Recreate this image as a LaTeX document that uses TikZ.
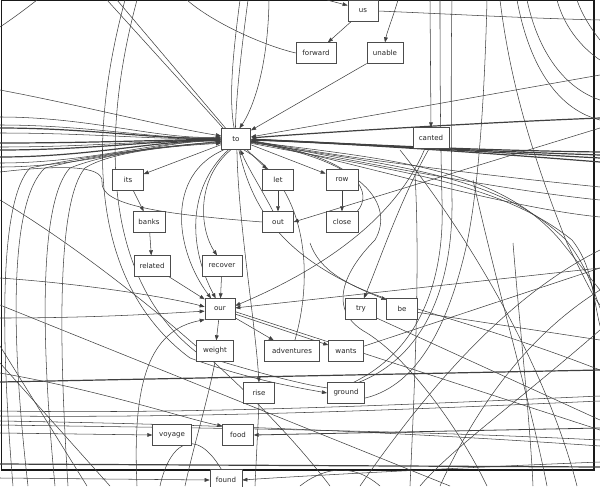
\documentclass[tikz,border=0pt]{standalone}
\usepackage{fontspec}
\setmainfont{DejaVu Sans}
\usetikzlibrary{arrows.meta}
\pgfdeclarelayer{bg}
\pgfsetlayers{bg,main}
\begin{document}
\begin{tikzpicture}[x=0.75pt,y=-0.75pt,
  nd/.style={draw=black!70, line width=0.45pt, fill=white, minimum height=15.5pt, inner sep=0pt, font=\fontsize{5.3}{6}\selectfont, text=black!85},
  ed/.style={draw=black!75, line width=0.4pt},
  ea/.style={ed, -{Triangle[length=3.8pt,width=2.8pt]}},
  bold/.style={line width=0.9pt},
  frame/.style={draw=black!90, line width=0.9pt}]
\useasboundingbox (0,0) rectangle (600,486);
% nodes
\node[nd, minimum width=22.5pt] (us) at (363,11) {us};
\node[nd, minimum width=30pt] (forward) at (316,53) {forward};
\node[nd, minimum width=27pt] (unable) at (385,53) {unable};
\node[nd, minimum width=22pt] (to) at (236,139) {to};
\node[nd, minimum width=27pt] (canted) at (431,138) {canted};
\node[nd, minimum width=23pt] (its) at (128,180) {its};
\node[nd, minimum width=23pt] (let) at (278,180) {let};
\node[nd, minimum width=24pt] (row) at (342,180) {row};
\node[nd, minimum width=24pt] (banks) at (149,222) {banks};
\node[nd, minimum width=23pt] (out) at (278,222) {out};
\node[nd, minimum width=24pt] (close) at (342,222) {close};
\node[nd, minimum width=27pt] (related) at (152,266) {related};
\node[nd, minimum width=30pt] (recover) at (222,266) {recover};
\node[nd, minimum width=22.5pt] (our) at (220,309) {our};
\node[nd, minimum width=23pt] (try) at (361,309) {try};
\node[nd, minimum width=23pt] (be) at (402,309) {be};
\node[nd, minimum width=28pt] (weight) at (215,351) {weight};
\node[nd, minimum width=41pt] (adventures) at (292,351) {adventures};
\node[nd, minimum width=26pt] (wants) at (346,351) {wants};
\node[nd, minimum width=23pt] (rise) at (259,393) {rise};
\node[nd, minimum width=28pt] (ground) at (346,393) {ground};
\node[nd, minimum width=29pt] (voyage) at (172,435) {voyage};
\node[nd, minimum width=23pt] (food) at (238,435) {food};
\node[nd, minimum width=24pt] (found) at (226,480) {found};
\begin{pgfonlayer}{bg}
\clip (0,0) rectangle (600,486);
\draw[frame] (1.5,0) rectangle (594,470);
% edges between visible nodes
\draw[ea] (us) -- (forward);
\draw[ea] (unable) -- (to);
\draw[ea] (to) -- (its);
\draw[ea] (to) -- (let);
\draw[ea] (to) -- (row);
\draw[ea] (let) -- (out);
\draw[ea] (row) -- (close);
\draw[ea] (its) -- (banks);
\draw[ea] (banks) -- (related);
\draw[ea] (related) -- (our);
\draw[ea] (recover) -- (our);
\draw[ea] (our) -- (weight);
\draw[ea] (our) -- (adventures);
\draw[ea] (our) -- (wants);
\draw[ea] (out.115) .. controls (262,190) and (248,168) .. (to.-68);
\draw[ea] (close.35) .. controls (372,195) and (365,160) .. (to.-8);
\draw[ea] (to.235) .. controls (185,190) and (190,250) .. (our.112);
\draw[ea] (to.222) .. controls (165,175) and (175,250) .. (our.130);
\draw[ea] (to.245) .. controls (195,180) and (200,230) .. (recover.115);
\draw[ea] (to.-85) .. controls (238,220) and (255,320) .. (rise.north);
\draw[ed] (adventures.75) .. controls (315,270) and (305,185) .. (to.-55);
\draw[ea] (to.-75) .. controls (255,225) and (300,265) .. (be.150);
\draw[ea] (canted.-100) .. controls (400,200) and (380,260) .. (try.75);
\draw[ea] (canted.-120) .. controls (395,220) and (320,270) .. (our.12);
\draw[ed] (to.-12) .. controls (365,160) and (395,205) .. (375,240) .. controls (345,270) and (325,310) .. (367,333) .. controls (410,360) and (460,430) .. (487,486);
% free ends
\coordinate (t1) at (327,0);  \draw[ea] (t1) -- (us.160);
\coordinate (t2) at (398,0);  \draw[ea] (t2) .. controls (392,20) and (387,32) .. (unable.north);
\coordinate (t3) at (430,0);  \draw[ea] (t3) -- (canted.north);
\coordinate (t4) at (187,0);  \draw[ed] (forward.west) .. controls (262,45) and (212,22) .. (t4);
\coordinate (r0) at (600,20); \draw[ed] (us.east) .. controls (450,14) and (520,18) .. (r0);
\coordinate (r1) at (600,128); \draw[ea] (r1) -- (out.east);
\coordinate (lf1) at (0,172); \draw[ed] (out.west) .. controls (160,214) and (100,205) .. (102,182) .. controls (104,165) and (60,165) .. (lf1);
% into to from the left
\foreach \y/\a/\w in {117/172/0.4,125/175/0.4,128/176/0.9,133/178/0.4,143/181/0.9,147/182/0.4,150/183/0.9,157/185/0.9,163/187/0.4,167/188/0.4}{
  \coordinate (lb) at (0,\y);
  \draw[ea, line width=\w pt] (lb) .. controls (90,\y) and (160,140) .. (to.\a);
}
\coordinate (lb0) at (0,90); \draw[ea] (lb0) .. controls (80,105) and (170,128) .. (to.168);
\foreach \x/\c/\m/\a in {13/0/30/189,28/10/45/190,55/40/70/193,68/58/85/196}{
  \coordinate (bl) at (\x,486);
  \draw[ea] (bl) .. controls (\c,330) and (\c,200) .. (\m,168) .. controls (110,152) and (170,146) .. (to.\a);
}
% into to from the top
\coordinate (t5) at (240,0); \draw[ed] (t5) .. controls (232,60) and (229,100) .. (to.100);
\coordinate (t6) at (248,0); \draw[ed] (t6) .. controls (240,60) and (236,100) .. (to.93);
\coordinate (t7) at (269,0); \draw[ea] (t7) .. controls (268,70) and (252,110) .. (to.72);
\coordinate (t8) at (107,0); \draw[ed] (t8) -- (to.140);
\coordinate (t9) at (117,0); \draw[ed] (t9) -- (to.134);
% into to from the right
\coordinate (r2) at (600,118); \draw[ea, bold] (r2) .. controls (450,124) and (300,134) .. (to.4);
\coordinate (r3) at (600,75);  \draw[ea] (r3) -- (to.8);
\foreach \y/\a in {152/-1,155/-2,158/-3,162/-4}{
  \coordinate (rb) at (600,\y);
  \draw[ea, bold] (rb) .. controls (450,150) and (320,142) .. (to.\a);
}
% out of to towards the right
\foreach \y/\a in {187/-5,200/-7,217/-9}{
  \coordinate (rc) at (600,\y);
  \draw[ed] (to.\a) .. controls (350,150+\y/20) and (500,\y-10) .. (rc);
}
\foreach \d/\a in {0/-10,6/-13,12/-16}{
  \coordinate (rd) at (600,290+\d*3);
  \draw[ed] (to.\a) .. controls (400,160+\d) and (500,170+\d) .. (560+\d,240) .. controls (580+\d,265) and (592,280+\d) .. (rd);
}
% into our
\coordinate (l2) at (0,278); \draw[ea] (l2) .. controls (100,285) and (180,300) .. (our.172);
\coordinate (l3) at (0,318); \draw[ea] (l3) .. controls (100,318) and (170,313) .. (our.188);
\coordinate (b1) at (137,486); \draw[ea] (b1) .. controls (132,380) and (150,330) .. (our.215);
\coordinate (r4) at (600,268); \draw[ea] (r4) -- (our.4);
\draw[ed] (wants.15) -- (r4);
\coordinate (r5) at (600,430); \draw[ed] (our.-10) -- (r5);
\coordinate (r6) at (600,340); \draw[ed] (be.-12) -- (r6);
\coordinate (r7) at (600,420); \draw[ed] (try.-30) -- (r7);
% ground
\coordinate (t10) at (125,0); \draw[ea] (t10) .. controls (90,130) and (85,280) .. (190,358) .. controls (250,380) and (300,388) .. (ground.west);
\coordinate (t11) at (137,0); \draw[ed] (t11) .. controls (102,130) and (100,280) .. (200,355) .. controls (255,372) and (300,384) .. (ground.165);
\coordinate (t12) at (440,0); \draw[ed] (ground.55) .. controls (420,350) and (445,280) .. (442,200) .. controls (440,120) and (440,50) .. (t12);
\coordinate (t13) at (452,0); \draw[ed] (ground.40) .. controls (428,355) and (453,280) .. (452,200) .. controls (451,120) and (451,50) .. (t13);
\coordinate (t14) at (487,0); \draw[ed] (ground.-15) .. controls (420,385) and (450,320) .. (467,243) .. controls (480,180) and (485,80) .. (t14);
% rise, weight
\coordinate (b2) at (255,486); \draw[ed] (rise.south) -- (b2);
\coordinate (b3) at (185,486); \draw[ed] (weight.south) .. controls (208,400) and (195,440) .. (b3);
% voyage, food, found
\coordinate (l4) at (0,433); \draw[ea] (l4) -- (voyage.west);
\coordinate (l5) at (0,373); \draw[ea] (l5) .. controls (100,390) and (190,420) .. (food.150);
\coordinate (r8) at (600,428); \draw[ea, line width=0.6pt] (r8) -- (food.east);
\coordinate (l6) at (0,478); \draw[ea] (l6) -- (found.west);
\coordinate (r9) at (600,462); \draw[ea] (r9) .. controls (450,468) and (300,476) .. (found.east);
% background through-edges
\draw[ed, bold] (0,382) -- (600,370);
\draw[ed, bold] (0,464) -- (600,467);
\draw[ed] (0,411) .. controls (200,414) and (400,405) .. (600,396);
\draw[ed] (0,416) .. controls (200,418) and (400,410) .. (600,401);
\draw[ed] (0,421) .. controls (200,424) and (400,432) .. (600,446);
\draw[ed] (0,425) .. controls (200,428) and (400,430) .. (600,440);
\draw[ed] (0,305) -- (450,486);
\draw[ed] (0,346) -- (87,486);
\draw[ed] (0,363) -- (110,486);
\draw[ed] (0,200) .. controls (100,260) and (250,380) .. (330,486);
\draw[ed] (0,27) .. controls (15,17) and (28,7) .. (37,0);
\draw[ed] (500,0) .. controls (510,80) and (530,150) .. (567,243) .. controls (585,280) and (595,300) .. (600,305);
\draw[ed] (517,0) .. controls (530,70) and (560,110) .. (600,120);
\draw[ed] (527,0) .. controls (540,60) and (570,90) .. (600,100);
\draw[ed] (557,0) .. controls (565,30) and (585,50) .. (600,60);
\draw[ed] (577,0) .. controls (582,15) and (592,30) .. (600,40);
\draw[ed] (513,243) .. controls (520,330) and (530,420) .. (533,486);
\draw[ed] (473,180) .. controls (500,300) and (530,400) .. (547,486);
\draw[ed] (415,175) .. controls (420,260) and (415,380) .. (410,486);
\draw[ed] (600,250) .. controls (500,300) and (420,400) .. (360,486);
\draw[ed] (600,290) .. controls (520,340) and (470,420) .. (440,486);
\draw[ed] (400,150) .. controls (480,250) and (550,380) .. (577,486);
\draw[ed] (600,330) .. controls (520,400) and (450,450) .. (420,486);
\draw[ed] (310,243) .. controls (330,300) and (420,300) .. (600,370);
\draw[ed] (160,486) .. controls (170,440) and (200,420) .. (230,486);
\draw[ed] (300,486) .. controls (320,470) and (350,460) .. (380,486);
\end{pgfonlayer}
\end{tikzpicture}
\end{document}
